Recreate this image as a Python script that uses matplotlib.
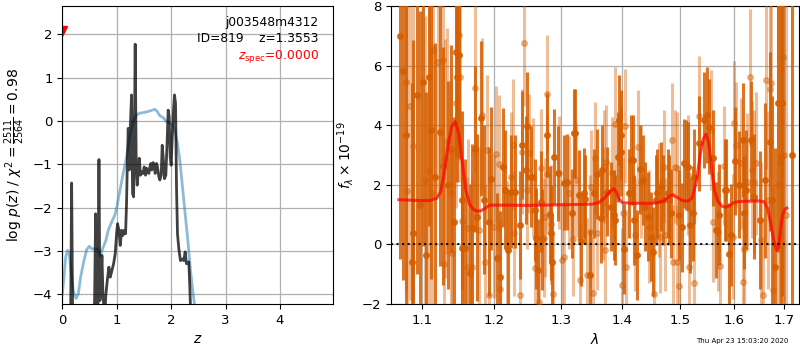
import matplotlib
matplotlib.use("Agg")
import matplotlib.pyplot as plt
from matplotlib.ticker import FixedLocator, FixedFormatter, NullLocator

# ---- redshift fit: log p(z) and smooth curve ----
pz_z = [0.000, 0.110, 0.153, 0.171, 0.190, 0.385, 0.569, 0.593, 0.612, 0.630,
        0.654, 0.673, 0.691, 0.709, 0.728, 0.746, 0.777, 0.801, 0.826, 0.856,
        0.881, 0.911, 0.942, 0.972, 0.997, 1.015, 1.040, 1.064, 1.089, 1.113,
        1.138, 1.162, 1.180, 1.193, 1.211, 1.229, 1.248, 1.272, 1.291, 1.309,
        1.321, 1.339, 1.358, 1.376, 1.394, 1.413, 1.437, 1.468, 1.486, 1.505,
        1.529, 1.547, 1.572, 1.590, 1.609, 1.627, 1.645, 1.670, 1.688, 1.706,
        1.731, 1.749, 1.774, 1.792, 1.817, 1.835, 1.853, 1.878, 1.902, 1.927,
        1.945, 1.963, 1.982, 2.000, 2.018, 2.043, 2.061, 2.080, 2.098, 2.116,
        2.141, 2.171, 2.208, 2.232, 2.257, 2.281, 2.306, 2.324, 2.336, 2.355,
        2.404, 4.980]
pz_logp = [-4.90, -4.90, -4.60, -1.43, -4.60, -5.70, -4.90, -4.14, -2.14, -4.50,
           -4.50, -0.89, -4.14, -3.75, -3.10, -3.99, -4.50, -3.99, -3.68, -3.37,
           -3.60, -3.45, -3.29, -3.06, -2.60, -2.37, -2.52, -2.87, -2.52, -2.64,
           -2.52, -2.60, -1.90, -1.06, -0.17, -1.13, -0.21, 0.60, -1.67, -1.75,
           -0.83, 1.77, -1.06, -1.48, -1.21, -0.86, -1.25, -1.17, -1.21, -1.06,
           -1.25, -1.09, -1.17, -1.21, -1.06, -0.98, -1.13, -0.96, -1.02, -1.21,
           -0.98, -1.06, -1.29, -1.36, -1.25, -0.56, -0.83, -1.33, -1.25, -0.44,
           0.25, 0.10, -0.83, -1.02, -0.44, 0.25, 0.60, 0.41, -1.52, -2.60,
           -2.95, -3.22, -3.18, -3.22, -3.02, -3.29, -3.29, -3.25, -3.60, -4.29,
           -5.70, -20.0]

prior_z = [0.000, 0.031, 0.061, 0.098, 0.128, 0.159, 0.202, 0.251, 0.294, 0.336,
           0.385, 0.446, 0.495, 0.544, 0.599, 0.648, 0.691, 0.740, 0.801, 0.844,
           0.905, 0.966, 1.009, 1.058, 1.119, 1.180, 1.242, 1.303, 1.364, 1.425,
           1.517, 1.609, 1.700, 1.743, 1.792, 1.853, 1.914, 1.976, 2.024, 2.073,
           2.116, 2.159, 2.208, 2.257, 2.306, 2.355, 2.404, 2.465, 2.600, 4.980]
prior_logp = [-3.99, -3.60, -3.14, -2.98, -3.06, -3.45, -3.91, -4.09, -3.99, -3.60,
              -3.29, -2.97, -2.89, -2.95, -2.95, -2.95, -3.12, -2.95, -2.75, -2.52,
              -2.33, -2.17, -1.94, -1.60, -1.21, -0.83, -0.32, -0.02, 0.14, 0.18,
              0.20, 0.23, 0.27, 0.22, 0.12, 0.08, -0.02, -0.04, -0.09, -0.25,
              -0.52, -0.90, -1.52, -2.14, -2.75, -3.45, -3.99, -4.60, -6.00, -20.0]

z_spec = 0.0
z_spec_marker_y = 2.08

# ---- 1D spectrum, two sets of extractions ----
dark_wave = [1.072, 1.075, 1.079, 1.087, 1.089, 1.093, 1.098, 1.101, 1.105, 1.109,
             1.112, 1.117, 1.124, 1.128, 1.135, 1.139, 1.143, 1.146, 1.148, 1.150,
             1.154, 1.155, 1.159, 1.166, 1.169, 1.173, 1.176, 1.181, 1.186, 1.192,
             1.196, 1.204, 1.208, 1.213, 1.216, 1.220, 1.224, 1.230, 1.238, 1.241,
             1.246, 1.248, 1.254, 1.260, 1.262, 1.265, 1.269, 1.271, 1.278, 1.283,
             1.285, 1.287, 1.290, 1.295, 1.305, 1.310, 1.317, 1.321, 1.323, 1.329,
             1.332, 1.337, 1.339, 1.346, 1.353, 1.357, 1.364, 1.366, 1.375, 1.380,
             1.385, 1.387, 1.393, 1.394, 1.397, 1.398, 1.403, 1.411, 1.414, 1.417,
             1.420, 1.424, 1.430, 1.435, 1.438, 1.443, 1.449, 1.453, 1.457, 1.460,
             1.466, 1.469, 1.478, 1.481, 1.484, 1.499, 1.503, 1.508, 1.511, 1.514,
             1.519, 1.523, 1.526, 1.535, 1.545, 1.550, 1.553, 1.560, 1.567, 1.573,
             1.583, 1.586, 1.592, 1.595, 1.602, 1.610, 1.618, 1.620, 1.624, 1.633,
             1.640, 1.651, 1.662, 1.671, 1.676, 1.681, 1.688, 1.693, 1.695, 1.717]
dark_flux = [7.00, 5.82, 3.67, -0.60, 0.37, 5.01, 1.32, 5.46, -0.37, 5.61,
             3.84, 2.27, 3.77, 2.64, 2.00, 3.20, 0.76, 6.45, 5.61, 6.35,
             1.49, -0.13, -0.13, -0.97, 0.56, 3.20, 0.91, 4.23, 1.50, 0.76,
             2.20, -0.47, -1.08, 2.59, 1.83, -0.19, 1.77, 1.77, 0.65, 3.34,
             2.50, 3.97, 2.27, 1.15, 0.20, -0.86, 1.43, 0.17, 3.67, 1.02,
             0.39, -0.58, 2.94, 2.39, 2.07, 2.10, 1.04, 3.73, 3.73, 1.66,
             0.12, 1.73, 1.51, -1.03, 1.71, 2.36, 0.88, 2.50, 1.77, 1.27,
             0.99, 0.82, 2.94, 4.17, 3.67, 3.11, -0.16, 1.71, 2.83, 2.83,
             0.82, -0.36, 2.52, 2.16, 1.27, 0.93, 0.26, -0.24, 1.49, 1.71,
             1.94, 1.49, 1.71, 1.49, 1.04, 0.99, 0.57, 2.72, 2.66, 2.61,
             0.65, 1.04, 2.27, 3.39, 4.17, 4.34, 3.95, 2.90, 0.48, 1.00,
             1.83, 1.83, -0.32, 0.32, 2.80, 2.00, 3.50, 1.06, 1.83, 3.50,
             1.60, 0.82, 2.16, 3.45, 1.49, -0.75, 4.73, 2.94, 4.76, 3.00]
dark_err = [7.5, 7.0, 6.5, 6.0, 6.5, 6.0, 6.5, 5.5, 5.5, 5.0,
            5.0, 4.5, 4.5, 4.0, 3.5, 3.5, 3.5, 3.5, 3.5, 3.5,
            3.0, 3.0, 3.0, 3.0, 2.8, 2.8, 2.8, 2.6, 2.5, 2.5,
            2.4, 2.2, 2.2, 2.0, 2.0, 2.0, 1.9, 1.9, 1.8, 1.8,
            1.8, 1.8, 1.7, 1.7, 1.7, 1.7, 1.7, 1.7, 1.4, 1.6,
            1.6, 1.6, 1.6, 1.6, 1.6, 1.6, 1.5, 1.5, 1.5, 1.5,
            1.5, 1.5, 1.5, 1.5, 1.5, 1.5, 1.5, 1.5, 1.5, 1.5,
            1.5, 1.5, 1.5, 1.5, 1.5, 1.5, 1.5, 1.5, 1.5, 1.5,
            1.5, 1.5, 1.5, 1.5, 1.5, 1.5, 1.5, 1.5, 1.5, 1.5,
            1.5, 1.5, 1.5, 1.5, 1.5, 1.5, 1.5, 1.5, 1.5, 1.5,
            1.6, 1.6, 1.6, 1.6, 1.6, 1.6, 1.6, 1.6, 1.6, 1.7,
            1.7, 1.7, 1.7, 1.7, 1.8, 1.8, 1.9, 1.9, 2.0, 2.0,
            2.1, 2.3, 2.6, 3.0, 3.5, 4.0, 5.0, 6.0, 6.5, 9.0]

light_wave = [1.079, 1.081, 1.085, 1.089, 1.104, 1.109, 1.113, 1.115, 1.121, 1.128,
              1.130, 1.131, 1.134, 1.139, 1.141, 1.146, 1.150, 1.151, 1.155, 1.161,
              1.163, 1.169, 1.173, 1.178, 1.183, 1.187, 1.190, 1.193, 1.199, 1.203,
              1.207, 1.209, 1.219, 1.224, 1.227, 1.229, 1.238, 1.241, 1.243, 1.248,
              1.251, 1.257, 1.260, 1.266, 1.270, 1.274, 1.275, 1.278, 1.279, 1.284,
              1.288, 1.297, 1.302, 1.305, 1.313, 1.319, 1.324, 1.331, 1.341, 1.347,
              1.348, 1.352, 1.354, 1.358, 1.367, 1.369, 1.371, 1.372, 1.382, 1.388,
              1.399, 1.401, 1.405, 1.406, 1.422, 1.427, 1.432, 1.445, 1.454, 1.462,
              1.464, 1.471, 1.474, 1.485, 1.487, 1.491, 1.494, 1.495, 1.499, 1.515,
              1.517, 1.525, 1.535, 1.557, 1.561, 1.570, 1.575, 1.581, 1.598, 1.601,
              1.604, 1.614, 1.618, 1.621, 1.627, 1.632, 1.635, 1.640, 1.644, 1.654,
              1.657, 1.664, 1.667, 1.671, 1.674, 1.677, 1.688, 1.692, 1.698, 1.701,
              1.704]
light_flux = [5.46, 1.79, 4.64, 3.30, 2.16, 2.47, 1.73, 6.52, 6.12, 6.19,
              -0.67, 2.88, 3.47, 1.73, -0.30, 4.73, 7.03, 5.61, 0.80, -0.75,
              0.54, -0.75, 5.24, 0.48, 4.34, -0.60, 3.17, -1.70, 0.60, 3.02,
              2.70, -1.50, -0.08, 2.25, 3.34, 0.37, -1.70, 3.11, 6.75, 1.83,
              3.06, 2.25, -0.80, -1.92, 2.55, 0.22, 0.91, 5.04, 2.36, 0.68,
              -1.66, 2.41, -0.52, -0.43, 1.73, 0.17, 2.16, -1.19, -1.03, 0.43,
              1.94, -1.64, 2.89, 0.37, 1.38, 2.61, -0.19, 2.78, 2.39, 4.04,
              -1.36, 1.04, 3.97, -0.75, 0.32, 3.28, 2.10, 0.60, -1.66, 1.49,
              0.26, 2.61, 0.32, 3.50, -0.58, 2.61, -0.58, 2.55, -1.40, 2.33,
              -0.75, -1.31, 4.31, 3.84, 0.74, 0.43, -0.72, 2.64, 0.26, 4.06,
              3.34, 2.72, -1.27, -0.15, 2.10, 5.61, 2.50, 2.10, 2.72, 0.15,
              -1.70, 5.52, 1.49, 5.20, 5.41, -1.53, 2.00, 2.72, 6.28, 3.00,
              1.00]
light_err = [7.0, 7.0, 6.5, 6.5, 5.5, 5.5, 5.0, 5.0, 4.5, 4.0,
             4.0, 4.0, 3.8, 3.8, 3.5, 3.5, 3.5, 3.5, 3.2, 3.0,
             3.0, 3.0, 2.8, 2.8, 2.6, 2.6, 2.5, 2.5, 2.4, 2.3,
             2.3, 2.3, 2.2, 2.2, 2.2, 2.1, 2.1, 2.1, 2.1, 2.0,
             2.0, 2.0, 2.0, 2.0, 2.0, 2.0, 2.0, 2.0, 2.0, 2.0,
             2.0, 1.9, 1.9, 1.9, 1.9, 1.9, 1.9, 1.9, 1.9, 1.9,
             1.9, 1.9, 1.9, 1.9, 1.9, 1.9, 1.9, 1.9, 1.9, 1.9,
             1.9, 1.9, 1.9, 1.9, 1.9, 1.9, 1.9, 1.9, 1.9, 1.9,
             1.9, 1.9, 1.9, 1.9, 1.9, 1.9, 1.9, 1.9, 1.9, 2.0,
             2.0, 2.0, 2.0, 2.0, 2.0, 2.0, 2.0, 2.0, 2.1, 2.1,
             2.1, 2.2, 2.2, 2.2, 2.3, 2.3, 2.3, 2.4, 2.4, 2.6,
             2.6, 3.0, 3.0, 3.2, 3.2, 3.5, 10.0, 10.0, 10.0, 10.0,
             10.0]

model_wave = [1.070, 1.080, 1.090, 1.100, 1.110, 1.120, 1.125, 1.130, 1.135, 1.140,
              1.145, 1.150, 1.155, 1.160, 1.165, 1.170, 1.175, 1.180, 1.185, 1.190,
              1.195, 1.200, 1.250, 1.300, 1.350, 1.360, 1.370, 1.378, 1.385, 1.390,
              1.395, 1.400, 1.420, 1.450, 1.460, 1.470, 1.480, 1.487, 1.495, 1.505,
              1.515, 1.522, 1.530, 1.537, 1.543, 1.548, 1.553, 1.558, 1.564, 1.570,
              1.578, 1.585, 1.592, 1.600, 1.610, 1.630, 1.650, 1.660, 1.667, 1.673,
              1.679, 1.685, 1.689, 1.693, 1.697, 1.702, 1.706]
model_flux = [1.50, 1.49, 1.48, 1.47, 1.47, 1.55, 1.75, 2.40, 3.30, 3.95,
              4.12, 3.70, 2.70, 1.80, 1.35, 1.18, 1.12, 1.12, 1.18, 1.27,
              1.32, 1.32, 1.31, 1.33, 1.35, 1.40, 1.55, 1.75, 1.87, 1.75,
              1.50, 1.40, 1.38, 1.38, 1.40, 1.45, 1.60, 1.67, 1.58, 1.47,
              1.45, 1.55, 2.10, 3.00, 3.55, 3.70, 3.40, 2.60, 1.80, 1.45,
              1.28, 1.25, 1.30, 1.40, 1.44, 1.45, 1.46, 1.43, 1.20, 0.70,
              0.15, -0.20, -0.10, 0.50, 1.00, 1.18, 1.22]

wave_ticks = [1.1, 1.2, 1.3, 1.4, 1.5, 1.6, 1.7]
wave_tick_labels = ["1.1", "1.2", "1.3", "1.4", "1.5", "1.6", "1.7"]

g141 = (0.8353, 0.3686, 0.0)

fig = plt.figure(figsize=(8, 3.5), dpi=100)

# left panel: p(z)
ax1 = fig.add_axes([0.0779, 0.1314, 0.3388, 0.8514])
ax1.plot(prior_z, prior_logp, color="C0", alpha=0.5, lw=2)
ax1.plot(pz_z, pz_logp, color="k", alpha=0.75, lw=2)
ax1.plot([z_spec], [z_spec_marker_y], marker="v", color="r", ms=7, ls="none")
ax1.set_xlim(0, 4.98)
ax1.set_ylim(-4.22, 2.65)
ax1.set_xticks([0, 1, 2, 3, 4])
ax1.set_yticks([-4, -3, -2, -1, 0, 1, 2])
ax1.grid(True, color="#b0b0b0", lw=0.9)
ax1.set_xlabel(r"$z$", fontsize=10)
ax1.set_ylabel(r"log $p(z)$ / $\chi^2=\frac{2511}{2564}=0.98$", fontsize=10)
ax1.tick_params(labelsize=9.5)
ax1.text(0.945, 0.965, "j003548m4312\nID=819    z=1.3553", transform=ax1.transAxes,
         ha="right", va="top", fontsize=8.8, linespacing=1.25)
ax1.text(0.945, 0.83, r"$z_\mathrm{spec}$=0.0000", transform=ax1.transAxes,
         ha="right", va="center", fontsize=8.8, color="r")

# right panel: spectrum
ax2 = fig.add_axes([0.4888, 0.1314, 0.5100, 0.8514])
ax2.errorbar(light_wave, light_flux, yerr=light_err, fmt="o", color=g141,
             alpha=0.4, ms=4, elinewidth=2.2, capsize=0, zorder=3)
ax2.errorbar(dark_wave, dark_flux, yerr=dark_err, fmt="o", color=g141,
             alpha=0.85, ms=4, elinewidth=2.2, capsize=0, zorder=3)
ax2.plot(model_wave, model_flux, color="r", alpha=0.7, lw=2.2, zorder=5)
ax2.axhline(0, color="k", ls=":", lw=1.5, alpha=0.9, zorder=6)
ax2.set_xscale("log")
ax2.set_xlim(1.06, 1.731)
ax2.set_ylim(-2, 8)
ax2.xaxis.set_major_locator(FixedLocator(wave_ticks))
ax2.xaxis.set_major_formatter(FixedFormatter(wave_tick_labels))
ax2.xaxis.set_minor_locator(NullLocator())
ax2.set_yticks([-2, 0, 2, 4, 6, 8])
ax2.grid(True, color="#b0b0b0", lw=0.9)
ax2.set_xlabel(r"$\lambda$", fontsize=10)
ax2.set_ylabel(r"$f_\lambda\times10^{-19}$", fontsize=10)
ax2.tick_params(labelsize=9.5)

fig.text(0.985, 0.027, "Thu Apr 23 15:03:20 2020", ha="right", va="center",
         fontsize=5)

fig.savefig("out.png", dpi=100)
